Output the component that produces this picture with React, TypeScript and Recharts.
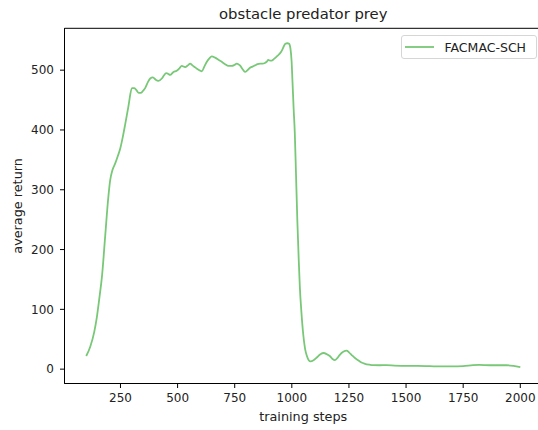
import { Legend, Line, LineChart, ReferenceArea, XAxis, YAxis } from 'recharts'

const steps = [
  100, 118, 135, 147, 158, 169, 183, 195, 205, 215, 227, 238, 249, 260, 270, 285, 300, 310, 319, 330,
  340, 350, 358, 370, 380, 392, 404, 416, 431, 440, 450, 458, 467, 482, 496, 508, 518, 533, 545, 555,
  565, 576, 590, 606, 617, 628, 640, 649, 664, 680, 693, 708, 722, 737, 750, 759, 766, 773, 784, 795,
  806, 817, 828, 839, 850, 861, 872, 882, 890, 897, 904, 912, 920, 926, 937, 948, 958, 965, 972, 980,
  988, 994, 999, 1003, 1008, 1013, 1018, 1024, 1030, 1035, 1042, 1050, 1058, 1066, 1074, 1082, 1095, 1108, 1125, 1140, 1153,
  1166, 1178, 1188, 1200, 1210, 1225, 1240, 1250, 1261, 1275, 1290, 1305, 1320, 1340, 1356, 1385, 1414, 1450, 1500, 1550,
  1604, 1650, 1700, 1750, 1793, 1820, 1866, 1900, 1939, 1970, 2000,
]
const avgReturn = [
  22, 38, 62, 88, 120, 155, 222, 280, 316, 333, 344, 356, 369, 388, 408, 440, 470, 470, 467, 462,
  462, 466, 470, 480, 486, 488, 484, 482, 486, 491, 495, 494, 492, 497, 499, 503, 507, 505, 508, 511,
  508, 505, 501, 498, 506, 514, 520, 523, 521, 517, 514, 510, 507, 507, 509, 511, 510, 508, 502, 497,
  500, 504, 506, 508, 510, 511, 511, 512, 514, 517, 516, 516, 518, 520, 524, 528, 534, 540, 544, 545,
  544, 536, 515, 480, 435, 395, 330, 250, 185, 138, 95, 58, 34, 22, 15, 13, 15, 19, 25, 27, 25,
  22, 17, 15, 19, 24, 29, 31, 28, 24, 19, 15, 11, 9, 7.5, 6.7, 6.5, 6.7, 6, 5.5, 5.5,
  5, 4.5, 4.5, 5, 6.7, 7, 6.5, 6.5, 6.5, 5.5, 3.5,
]
const xTicks = [250, 500, 750, 1000, 1250, 1500, 1750, 2000]
const yTicks = [0, 100, 200, 300, 400, 500]
const seriesName = 'FACMAC-SCH'

const data = steps.map((s, i) => ({ step: s, ret: avgReturn[i] }))

const green = '#78c878'
const font = '"DejaVu Sans", sans-serif'

function LegendBox() {
  return (
    <div style={{ boxSizing: 'border-box', width: 136, height: 24, border: '1px solid #d6d6d6', borderRadius: 3, background: '#fff', display: 'flex', alignItems: 'center', fontFamily: font, fontSize: 12.5, color: '#222' }}>
      <svg width={40} height={10} style={{ marginLeft: 3 }}>
        <line x1={0} y1={5} x2={29} y2={5} stroke={green} strokeWidth={1.8} />
      </svg>
      <span>{seriesName}</span>
    </div>
  )
}

export default function App() {
  return (
    <div style={{ position: 'absolute', left: 0, top: 0, width: 538, height: 430, overflow: 'hidden', background: '#fff' }}>
      <LineChart width={560} height={430} data={data} margin={{ top: 28.3, right: 18, bottom: 0, left: 0 }} style={{ fontFamily: font }}>
        <XAxis
          dataKey="step"
          type="number"
          domain={[5, 2095]}
          allowDataOverflow
          ticks={xTicks}
          height={46.5}
          tickSize={4.5}
          tickMargin={5}
          axisLine={{ stroke: '#000' }}
          tickLine={{ stroke: '#000' }}
          tick={{ fill: '#222', fontSize: 12 }}
          label={{
            content: ({ viewBox }: any) => (
              <text x={viewBox.x + viewBox.width / 2} y={420.5} textAnchor="middle" fontSize={12.8} fill="#222">training steps</text>
            ),
          }}
        />
        <YAxis
          type="number"
          domain={[-24, 570]}
          allowDataOverflow
          ticks={yTicks}
          width={64.5}
          tickSize={4.5}
          tickMargin={6}
          axisLine={{ stroke: '#000' }}
          tickLine={{ stroke: '#000' }}
          tick={{ fill: '#222', fontSize: 12 }}
          label={{
            content: ({ viewBox }: any) => {
              const cy = viewBox.y + viewBox.height / 2
              return (
                <text x={22.5} y={cy} transform={`rotate(-90, 22.5, ${cy})`} textAnchor="middle" fontSize={12.8} fill="#222">average return</text>
              )
            },
          }}
        />
        <Line type="monotone" dataKey="ret" name={seriesName} stroke={green} strokeWidth={1.8} dot={false} activeDot={false} isAnimationActive={false} />
        <ReferenceArea
          x1={5}
          x2={2095}
          y1={-24}
          y2={570}
          fill="none"
          stroke="#000"
          strokeWidth={1}
          fillOpacity={0}
          ifOverflow="visible"
          label={{
            content: ({ viewBox }: any) => (
              <text x={viewBox.x + viewBox.width / 2} y={18.5} textAnchor="middle" fontSize={14.8} fill="#222">obstacle predator prey</text>
            ),
          }}
        />
        <Legend layout="horizontal" verticalAlign="middle" align="center" wrapperStyle={{ left: 400.5, top: 35, width: 136, height: 24 }} content={() => <LegendBox />} />
      </LineChart>
    </div>
  )
}
